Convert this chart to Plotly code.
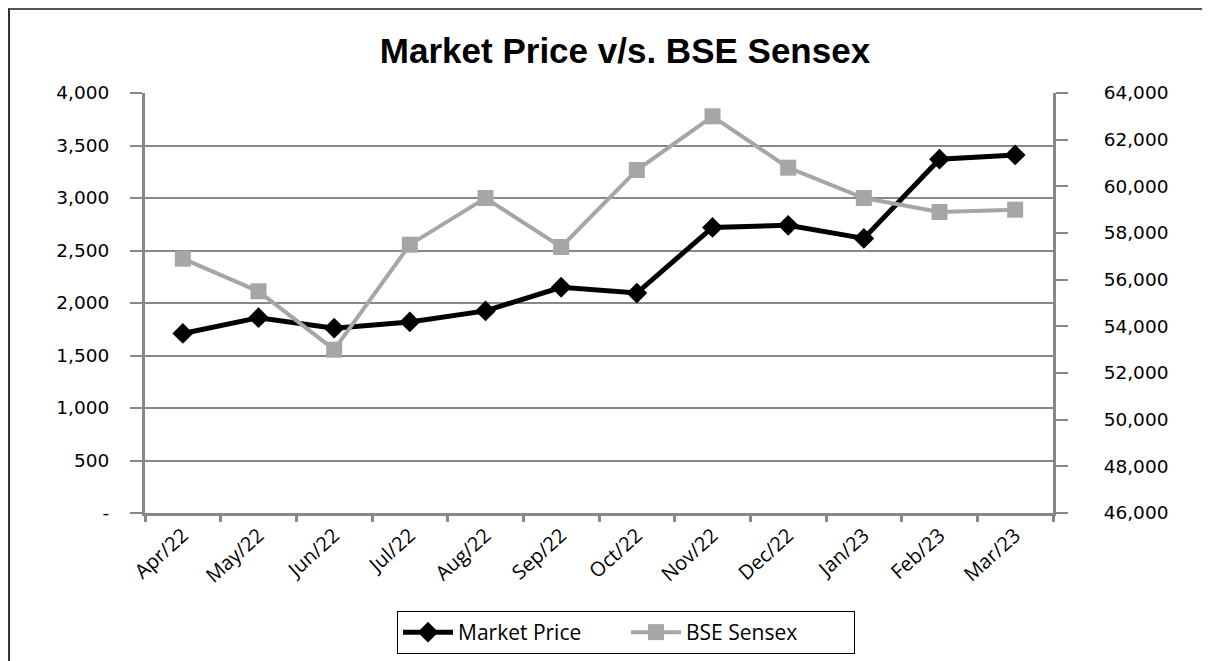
import plotly.graph_objects as go

months = ["Apr/22", "May/22", "Jun/22", "Jul/22", "Aug/22", "Sep/22",
          "Oct/22", "Nov/22", "Dec/22", "Jan/23", "Feb/23", "Mar/23"]
market_price = [1710, 1860, 1760, 1820, 1925, 2150, 2095, 2720, 2740, 2615, 3370, 3410]
bse_sensex = [56900, 55500, 53000, 57500, 59500, 57400, 60700, 63000, 60800, 59500, 58900, 59000]

left_ticks = [0, 500, 1000, 1500, 2000, 2500, 3000, 3500, 4000]
left_text = ["-", "500", "1,000", "1,500", "2,000", "2,500", "3,000", "3,500", "4,000"]
right_ticks = [46000, 48000, 50000, 52000, 54000, 56000, 58000, 60000, 62000, 64000]
right_text = ["46,000", "48,000", "50,000", "52,000", "54,000", "56,000",
              "58,000", "60,000", "62,000", "64,000"]

AX = "#888888"
GRAY = "#A6A6A8"

fig = go.Figure()
fig.add_trace(go.Scatter(
    x=months, y=market_price, name="Market Price", mode="lines+markers",
    line=dict(color="black", width=5),
    marker=dict(symbol="diamond", size=16, color="black"),
    yaxis="y"))
fig.add_trace(go.Scatter(
    x=months, y=bse_sensex, name="BSE Sensex", mode="lines+markers",
    line=dict(color=GRAY, width=4),
    marker=dict(symbol="square", size=16, color=GRAY),
    yaxis="y2"))

OFF = 8  # page body margin
W, H = 1210, 661
# screen-pixel plot area
L, R, T, B = 145, 1053, 93, 513
pw, ph = R - L, B - T

def px(x):
    return (x - L) / pw

def py(y):
    return (B - y) / ph

fig.update_layout(
    width=W, height=H,
    margin=dict(l=L - OFF, r=W - (R - OFF), t=T - OFF, b=H - (B - OFF)),
    paper_bgcolor="white", plot_bgcolor="white",
    title=dict(text="<b>Market Price v/s. BSE Sensex</b>",
               font=dict(family="Liberation Sans, Arial", size=35, color="black"),
               x=(625 - OFF) / W, xanchor="center", xref="container",
               y=1 - (51 - OFF) / H, yanchor="middle", yref="container"),
    xaxis=dict(type="category", range=[-0.5, 11.5], showgrid=False,
               showline=True, linecolor=AX, linewidth=3,
               ticks="outside", tickson="boundaries", ticklen=6, tickwidth=3,
               tickcolor=AX, tickangle=-42,
               tickfont=dict(family="Open Sans", size=20, color="black"),
               zeroline=False),
    yaxis=dict(range=[0, 4000], tickvals=left_ticks, ticktext=left_text,
               showgrid=True, gridcolor=AX, gridwidth=2,
               showline=True, linecolor=AX, linewidth=3,
               ticks="outside", ticklen=12, tickwidth=2, tickcolor=AX,
               ticklabelstandoff=17,
               tickfont=dict(family="DejaVu Sans", size=18.5, color="black"),
               zeroline=False),
    yaxis2=dict(range=[46000, 64000], tickvals=right_ticks, ticktext=right_text,
                overlaying="y", side="right", showgrid=False,
                showline=True, linecolor=AX, linewidth=3,
                ticks="outside", ticklen=12, tickwidth=2, tickcolor=AX,
                ticklabelstandoff=32,
                tickfont=dict(family="DejaVu Sans", size=18.5, color="black"),
                zeroline=False),
    legend=dict(orientation="h", x=px(397), xanchor="left",
                y=py(611), yanchor="top",
                bordercolor="black", borderwidth=1, bgcolor="white",
                font=dict(family="Open Sans", size=21, color="black"),
                itemwidth=50, entrywidth=163),
    showlegend=True,
    shapes=[
        dict(type="line", xref="paper", yref="paper",
             x0=px(9), x1=px(9), y0=py(7), y1=py(700),
             line=dict(color="#333333", width=2)),
        dict(type="line", xref="paper", yref="paper",
             x0=px(9), x1=px(1240), y0=py(9), y1=py(9),
             line=dict(color="#555555", width=2)),
    ],
)

fig.write_html("out.html")
